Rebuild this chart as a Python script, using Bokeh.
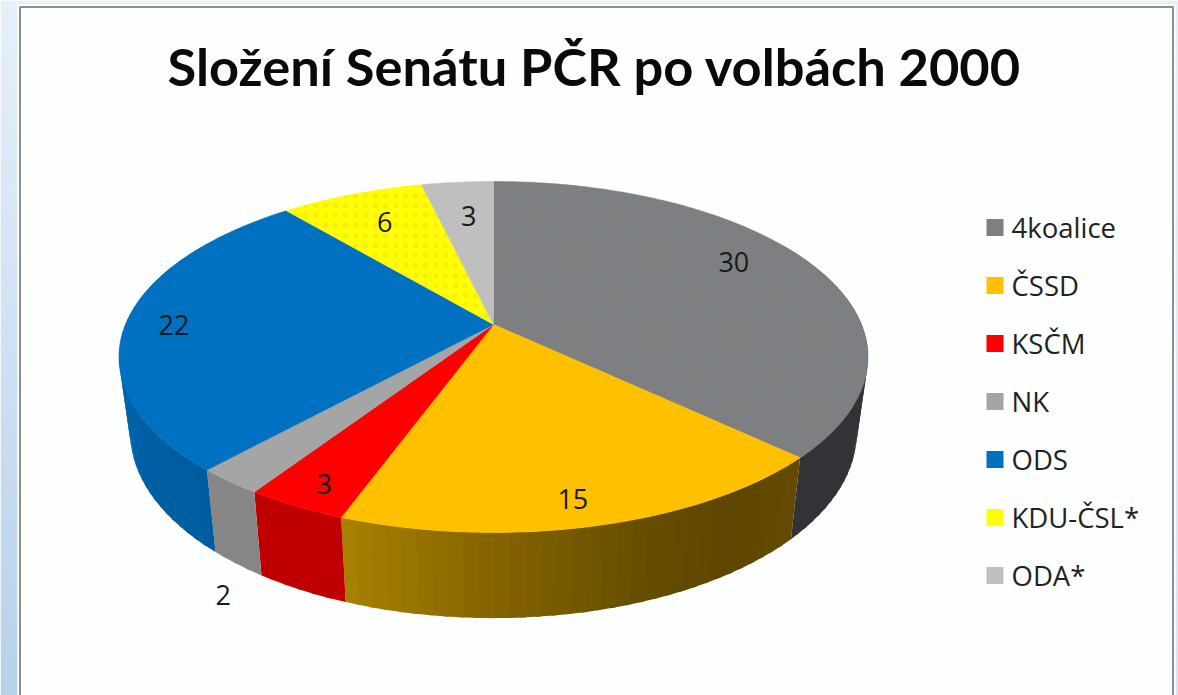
import math
from bokeh.plotting import figure
from bokeh.models import Range1d
from bokeh.core.properties import value
from bokeh.embed import file_html
from bokeh.resources import INLINE

# ---- data
parties = ["4koalice", "ČSSD", "KSČM", "NK", "ODS", "KDU-ČSL*", "ODA*"]
seats = [30, 15, 3, 2, 22, 6, 3]
colors = ["#7f7f7f", "#ffc000", "#ff0000", "#a5a5a5", "#0070c0", "#ffff00", "#bfbfbf"]
title = "Složení Senátu PČR po volbách 2000"

# ---- style / layout
W, H = 1178, 695
TOP = dict(cx=493, cy=324, a=368, b=169.5)
BOT = dict(cx=493, cy=398, a=357, b=179)
PERSP = 0.185
label_nudge = [(-15, -12), (0, 20), (-17, 20), (-66, 149), (-26, 3), (8, 5), (5, 9)]
wall_stops = {
    0: [(0, "#333237"), (360, "#333237")],
    1: [(133, "#644b00"), (146, "#5e4600"), (160, "#664d00"), (180, "#856400"), (200, "#a88200")],
    2: [(0, "#c00000"), (360, "#c00000")],
    3: [(0, "#868686"), (360, "#868686")],
    4: [(222, "#005c9e"), (250, "#0062a8"), (300, "#006ab4")],
    5: [(0, "#bfbf00"), (360, "#bfbf00")],
    6: [(0, "#8f8f8f"), (360, "#8f8f8f")],
}
dot_colors = {0: ("#6d8296", 0.6), 5: ("#f0c040", 0.3)}


def project(deg, r, g):
    t = math.radians(deg)
    w = 1 + PERSP * r * math.cos(t)
    return g["cx"] + g["a"] * r * math.sin(t) / w, g["cy"] - g["b"] * r * math.cos(t) / w


def hex2rgb(h):
    return tuple(int(h[i:i + 2], 16) for i in (1, 3, 5))


def mix(c1, c2, f):
    a, b = hex2rgb(c1), hex2rgb(c2)
    return "#%02x%02x%02x" % tuple(round(a[i] + (b[i] - a[i]) * f) for i in range(3))


def ramp(stops, t):
    if t <= stops[0][0]:
        return stops[0][1]
    for (t0, c0), (t1, c1) in zip(stops, stops[1:]):
        if t <= t1:
            return mix(c0, c1, (t - t0) / (t1 - t0))
    return stops[-1][1]


p = figure(width=W, height=H, x_range=Range1d(0, W), y_range=Range1d(H, 0),
           x_axis_type=None, y_axis_type=None, toolbar_location=None,
           output_backend="svg", min_border=0, outline_line_color=None,
           background_fill_color="#ffffff", border_fill_color="#ffffff")
p.grid.visible = False

# page background + frame
rows = 48
ys0 = [H * i / rows for i in range(rows)]
ys1 = [H * (i + 1) / rows + 0.5 for i in range(rows)]
left_cols = [mix("#e6f0fb", "#b7d1eb", i / (rows - 1)) for i in range(rows)]
right_cols = [mix("#e6f0fb", "#d8e5f4", i / (rows - 1)) for i in range(rows)]
p.quad(left=0, right=17, top=ys0, bottom=ys1, fill_color=left_cols, line_color=None)
p.quad(left=1175, right=W, top=ys0, bottom=ys1, fill_color=right_cols, line_color=None)
p.quad(left=0, right=W, top=0, bottom=3.5, fill_color="#e6f0fb", line_color=None)
p.quad(left=17, right=1175, top=3.5, bottom=H + 5, fill_color="#fdfefe", line_color=None)
p.quad(left=19.5, right=1172.5, top=6.5, bottom=H + 5, fill_color="#fdfefe",
       line_color="#8e8e8e", line_width=2)

# angles from values
total = sum(seats)
starts, ends, c = [], [], 0
for s in seats:
    starts.append(c / total * 360)
    c += s
    ends.append(c / total * 360)

# side walls, drawn first, top surface covers their hidden part
wx, wy, wc = [], [], []
for i in range(len(seats)):
    a0, a1 = max(starts[i], 60), min(ends[i], 300)
    if a1 <= a0:
        continue
    n = max(1, int((a1 - a0) / 2.0))
    for j in range(n):
        t0 = a0 + (a1 - a0) * j / n
        t1 = a0 + (a1 - a0) * (j + 1) / n
        te = t1 if j == n - 1 else t1 + 0.7
        q = [project(t0, 1, TOP), project(te, 1, TOP), project(te, 1, BOT), project(t0, 1, BOT)]
        wx.append([pt[0] for pt in q])
        wy.append([pt[1] for pt in q])
        wc.append(ramp(wall_stops[i], (t0 + t1) / 2))
p.patches(wx, wy, fill_color=wc, line_color=None)

# top surface
for i in range(len(seats)):
    n = max(2, int(ends[i] - starts[i]))
    pts = [project(starts[i] + (ends[i] - starts[i]) * j / n, 1, TOP) for j in range(n + 1)]
    xs = [TOP["cx"]] + [pt[0] for pt in pts]
    ys = [TOP["cy"]] + [pt[1] for pt in pts]
    p.patch(xs, ys, fill_color=colors[i], line_color=colors[i], line_width=0.6)
    if i in dot_colors:
        p.patch(xs, ys, fill_color=None, line_color=None, hatch_pattern="dot",
                hatch_color=dot_colors[i][0], hatch_scale=10, hatch_weight=0.8,
                hatch_alpha=dot_colors[i][1])

# data labels
for i, s in enumerate(seats):
    lx, ly = project((starts[i] + ends[i]) / 2, 0.8, TOP)
    p.text([lx + label_nudge[i][0]], [ly + label_nudge[i][1]], text=[str(s)],
           text_font=value("Open Sans"), text_font_size="27px", text_color="#1a1a1a",
           text_align="center", text_baseline="middle")

# legend
leg_y = [227 + 58 * i for i in range(len(parties))]
p.quad(left=986, right=1003, top=[y - 8.5 for y in leg_y], bottom=[y + 8.5 for y in leg_y],
       fill_color=colors, line_color=None)
p.text([1011] * len(parties), leg_y, text=parties, text_font=value("Open Sans"),
       text_font_size="27.5px", text_color="#222222", text_align="left", text_baseline="middle")

# title
p.text([594], [65], text=[title], text_font=value("Lato"), text_font_style="bold",
       text_font_size="52.4px", text_color="#0a0a0a", text_align="center", text_baseline="middle")

open("out.html", "w").write(file_html(p, INLINE))
